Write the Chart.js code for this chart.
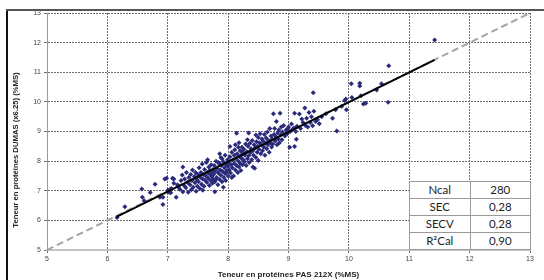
<!DOCTYPE html>
<html><head><meta charset="utf-8">
<script src="https://cdn.jsdelivr.net/npm/chart.js@4.4.1/dist/chart.umd.min.js"></script>
<style>
html,body{margin:0;padding:0;background:#fff;}
#wrap{position:relative;width:544px;height:280px;overflow:hidden;background:#fff;}
#c{position:absolute;left:0;top:0;}
#frameL{position:absolute;left:6px;top:9px;width:2px;height:271px;background:#111;}
#frameT{position:absolute;left:6px;top:9px;width:538px;height:2px;background:#555;}
#stats{position:absolute;border-collapse:collapse;background:#fff;font-family:Lato,"Open Sans",sans-serif;font-size:11.5px;color:#222;table-layout:fixed;}
#stats td{border:1px solid #9a9a9a;text-align:center;padding:0;line-height:14px;}
</style></head>
<body>
<div id="wrap">
<canvas id="c" width="544" height="280"></canvas>
<div id="frameL"></div><div id="frameT"></div>
<table id="stats"><tbody></tbody></table>
</div>
<script>
// Reference values X (PAS 212X), measured Y (DUMAS)
const protPAS = [
 6.16,6.29,6.57,6.58,6.61,6.71,6.79,6.87,6.92,6.92,6.95,6.98,7.00,7.02,7.03,7.04,7.05,7.06,7.08,7.10,7.10,7.14,7.16,7.18,
 7.20,7.22,7.24,7.25,7.25,7.27,7.28,7.30,7.31,7.33,7.34,7.35,7.37,7.38,7.39,7.40,7.41,7.42,7.44,7.45,7.46,7.47,7.48,7.49,7.50,
 7.51,7.52,7.53,7.54,7.55,7.56,7.57,7.58,7.59,7.60,7.61,7.62,7.63,7.64,7.65,7.66,7.67,7.68,7.69,7.70,7.70,7.71,7.72,7.73,7.74,7.74,7.75,7.75,7.58,7.66,
 7.76,7.77,7.78,7.78,7.79,7.80,7.81,7.82,7.83,7.84,7.85,7.86,7.87,7.88,7.88,7.89,7.90,7.91,7.92,7.93,7.94,7.95,7.95,7.96,7.97,7.98,7.99,8.00,8.00,7.80,7.86,7.92,7.97,7.84,7.90,
 8.01,8.02,8.03,8.03,8.04,8.05,8.06,8.07,8.08,8.09,8.10,8.10,8.11,8.12,8.13,8.14,8.14,8.15,8.16,8.17,8.17,8.18,8.19,8.20,8.20,8.21,8.22,8.23,8.23,8.24,8.25,8.12,8.06,8.18,8.24,
 8.26,8.27,8.28,8.29,8.30,8.31,8.32,8.33,8.34,8.34,8.35,8.36,8.37,8.38,8.39,8.40,8.41,8.41,8.42,8.43,8.44,8.45,8.46,8.47,8.48,8.49,8.50,8.50,8.32,8.46,
 8.51,8.52,8.53,8.54,8.55,8.56,8.57,8.58,8.59,8.60,8.61,8.62,8.63,8.64,8.65,8.66,8.67,8.68,8.69,8.70,8.71,8.72,8.73,8.74,8.75,
 8.76,8.77,8.78,8.79,8.80,8.81,8.82,8.83,8.84,8.85,8.86,8.87,8.88,8.89,8.90,8.92,8.94,8.96,8.98,8.99,
 9.00,9.02,9.03,9.05,9.07,9.09,9.10,9.10,9.12,9.13,9.14,9.18,9.20,9.22,9.24,
 9.27,9.28,9.30,9.32,9.34,9.36,9.38,9.40,9.41,9.42,9.45,9.48,
 9.51,9.55,9.62,9.73,9.78,9.80,9.88,9.93,9.95,9.96,
 10.04,10.05,10.18,10.18,10.20,10.24,10.28,10.46,10.54,10.65,10.66,11.42
];
const protDUMAS = [
 6.10,6.46,7.06,6.78,6.66,6.94,7.22,6.78,6.78,6.54,7.40,7.42,7.02,6.95,6.98,7.05,6.93,7.08,7.42,7.40,7.25,6.78,7.20,7.12,
 7.05,7.35,7.53,7.80,6.97,7.18,7.40,7.10,7.62,7.28,6.95,7.45,7.20,7.55,7.03,7.35,7.70,7.12,7.48,7.27,7.62,6.98,7.38,7.15,7.55,
 7.30,7.78,7.08,7.45,7.62,7.22,7.90,7.40,7.55,7.15,7.72,7.35,7.50,7.95,7.28,7.62,7.42,7.80,7.18,7.55,7.68,7.35,7.88,7.48,7.25,7.62,7.72,7.40,7.02,8.05,
 7.55,7.85,6.97,7.30,7.65,8.00,7.45,7.75,7.20,7.60,7.92,7.38,7.70,8.12,7.52,7.85,7.30,7.65,7.98,7.45,7.78,7.58,8.20,7.35,7.88,7.68,8.05,7.50,7.82,7.38,8.25,7.12,7.62,7.95,8.08,
 7.95,7.70,8.49,8.15,7.60,7.88,8.30,7.78,8.05,7.50,8.20,7.92,8.38,7.70,8.08,8.94,7.85,8.25,7.62,8.47,8.00,7.80,8.15,8.35,7.92,7.68,8.10,8.47,8.22,7.88,8.05,8.55,7.45,8.62,8.30,
 8.40,7.98,8.20,8.58,7.85,8.32,8.08,8.50,8.95,8.18,7.95,8.60,8.28,8.42,8.05,8.70,7.80,8.35,8.20,8.55,7.76,8.45,8.12,8.65,8.30,8.50,8.02,8.80,8.72,8.88,
 8.40,8.62,8.92,8.25,8.55,8.75,8.35,8.68,8.48,8.90,8.20,8.60,8.78,8.42,8.98,8.55,8.70,8.30,9.10,8.62,8.85,8.48,8.75,8.58,9.60,
 8.90,9.10,8.68,8.82,9.34,8.55,8.95,8.75,9.05,8.62,9.62,8.88,9.15,8.72,8.98,9.20,8.85,9.05,8.92,9.09,
 9.15,8.47,9.00,9.25,9.08,9.12,9.62,8.49,9.00,8.74,9.18,9.59,9.10,9.42,9.30,
 9.79,9.20,9.45,9.15,9.64,9.30,9.50,9.19,10.31,9.68,9.34,9.40,
 9.26,9.50,9.60,9.45,9.73,9.02,9.85,10.05,10.10,9.73,
 10.61,10.15,10.63,10.54,10.21,9.93,9.95,10.40,10.61,9.99,11.22,12.09
];
// Regression line and 1:1 line
const regX = [6.15, 11.42];
const regY = [6.12, 11.42];
const idX = [5, 13];
const idY = [5, 13];
// Axis ticks
const tickMin = 5, tickMax = 13, tickStep = 1;
// Statistics table
const statNames = ["Ncal", "SEC", "SECV", "R²Cal"];
const statValues = ["280", "0,28", "0,28", "0,90"];
const xTitle = "Teneur en protéines PAS 212X (%MS)";
const yTitle = "Teneur en protéines DUMAS (x6.25) (%MS)";

const tb = document.querySelector('#stats tbody');
statNames.forEach((n, i) => {
  const tr = document.createElement('tr');
  const a = document.createElement('td'); a.textContent = n;
  const b = document.createElement('td'); b.textContent = statValues[i];
  tr.appendChild(a); tr.appendChild(b); tb.appendChild(tr);
});

const zip = (xs, ys) => xs.map((x, i) => ({x: x, y: ys[i]}));

const tablePlugin = {
  id: 'tablePos',
  afterLayout(chart) {
    const xs = chart.scales.x, ys = chart.scales.y;
    const l = xs.getPixelForValue(11), r = xs.getPixelForValue(13);
    const b = ys.getPixelForValue(5);
    const h = 69;
    const t = document.getElementById('stats');
    t.style.left = Math.round(l) + 'px';
    t.style.top = Math.round(b - h) + 'px';
    t.style.width = Math.round(r - l + 1) + 'px';
    t.style.height = h + 'px';
  }
};

// y-axis title, placed like the original (shifted toward the bottom)
const yTitlePlugin = {
  id: 'yTitle',
  afterDraw(chart) {
    const ctx = chart.ctx, a = chart.chartArea;
    ctx.save();
    ctx.font = 'bold 7.7px "Liberation Sans"';
    ctx.fillStyle = '#222';
    ctx.textAlign = 'center';
    ctx.textBaseline = 'middle';
    ctx.translate(16, a.bottom - 100);
    ctx.rotate(-Math.PI / 2);
    ctx.fillText(yTitle, 0, 0);
    ctx.restore();
  }
};

new Chart(document.getElementById('c'), {
  type: 'scatter',
  data: {
    datasets: [
      {type: 'line', data: zip(idX, idY), borderColor: '#a3a3a3', borderWidth: 2, borderDash: [7, 4], pointRadius: 0, fill: false, order: 3},
      {data: zip(protPAS, protDUMAS), backgroundColor: '#2b2b7c', borderColor: '#2b2b7c', borderWidth: 0, pointStyle: 'rectRot', pointRadius: 2.5, order: 2},
      {type: 'line', data: zip(regX, regY), borderColor: '#000', borderWidth: 2, pointRadius: 0, fill: false, order: 1}
    ]
  },
  options: {
    responsive: false, animation: false,
    layout: {padding: {left: 8, right: 14, top: 13, bottom: 0}},
    plugins: {legend: {display: false}, tooltip: {enabled: false}},
    scales: {
      x: {
        type: 'linear', min: tickMin, max: tickMax,
        ticks: {stepSize: tickStep, font: {family: 'Liberation Sans', size: 7}, color: '#444', padding: 2},
        grid: {color: '#6f6f6f', lineWidth: 1, tickLength: 3},
        border: {color: '#c4c4c4', width: 2, dash: [2, 1]},
        title: {display: true, text: xTitle, font: {family: 'Liberation Sans', size: 8, weight: 'bold'}, color: '#222', padding: {top: 2, bottom: 0}},
        afterFit(s) { s.height = 30; }
      },
      y: {
        type: 'linear', min: tickMin, max: tickMax,
        ticks: {stepSize: tickStep, font: {family: 'Liberation Sans', size: 7}, color: '#444', padding: 3},
        grid: {color: '#6f6f6f', lineWidth: 1, tickLength: 3},
        border: {color: '#9a9a9a', width: 1, dash: [2, 1]},
        title: {display: false},
        afterFit(s) { s.width = 39; }
      }
    }
  },
  plugins: [tablePlugin, yTitlePlugin]
});
</script>
</body></html>
